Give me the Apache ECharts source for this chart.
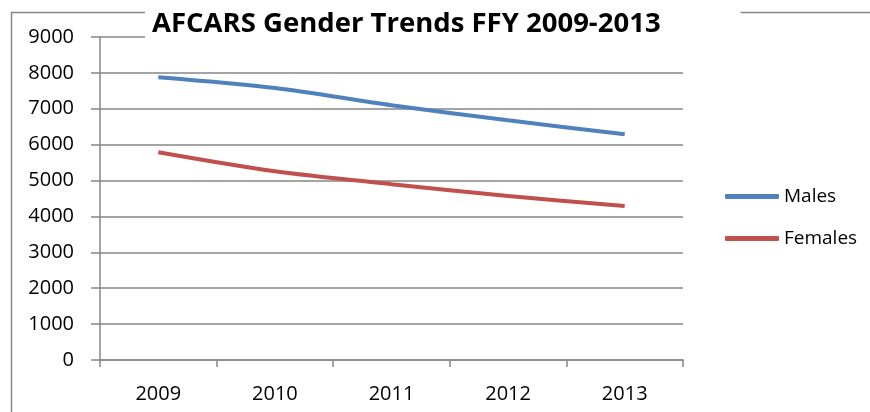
<!DOCTYPE html>
<html>
<head>
<meta charset="utf-8">
<script src="https://cdn.jsdelivr.net/npm/echarts@6/dist/echarts.min.js"></script>
<style>
html,body{margin:0;padding:0;background:#fff;}
#chart{width:870px;height:412px;}
</style>
</head>
<body>
<div id="chart"></div>
<script>
var years = ['2009', '2010', '2011', '2012', '2013'];
var males = [7880, 7580, 7100, 6680, 6290];
var females = [5790, 5260, 4900, 4570, 4290];
var yTicks = [0, 9000, 1000]; // min, max, step

var myChart = echarts.init(document.getElementById('chart'));
var option = {
	animation: false,
	// outer frame of the chart area
	graphic: [{
		type: 'rect',
		z: -10,
		shape: {x: 11.5, y: 12.5, width: 900, height: 500},
		style: {fill: 'none', stroke: '#868686', lineWidth: 1.5}
	}],
	title: {
		text: 'AFCARS Gender Trends FFY 2009-2013',
		left: 145,
		top: 2,
		padding: [8, 80, 6, 7],
		backgroundColor: '#fff',
		textStyle: {
			fontFamily: 'Open Sans',
			fontWeight: 'bold',
			fontSize: 27.5,
			color: '#000'
		}
	},
	legend: {
		orient: 'vertical',
		left: 720,
		top: 182,
		itemWidth: 54,
		itemHeight: 5,
		itemGap: 23,
		icon: 'roundRect',
		textStyle: {fontFamily: 'Open Sans', fontSize: 19, color: '#000'},
		data: ['Males', 'Females']
	},
	grid: {left: 100, right: 187, top: 37, bottom: 52},
	xAxis: {
		type: 'category',
		data: years,
		boundaryGap: true,
		axisLine: {lineStyle: {color: '#868686', width: 1.5}},
		axisTick: {show: true, length: 7, lineStyle: {color: '#868686', width: 1.5}},
		axisLabel: {fontFamily: 'Open Sans', fontSize: 20, color: '#000', margin: 24}
	},
	yAxis: {
		type: 'value',
		min: yTicks[0],
		max: yTicks[1],
		interval: yTicks[2],
		axisLine: {show: true, lineStyle: {color: '#868686', width: 1.5}},
		axisTick: {show: true, length: 9, lineStyle: {color: '#868686', width: 1.5}},
		splitLine: {lineStyle: {color: '#868686', width: 1.5}},
		axisLabel: {
			fontFamily: 'Open Sans', fontSize: 20, color: '#000', margin: 26,
			padding: [5, 0, 0, 0],
			formatter: function (v) { return String(v); }
		}
	},
	series: [{
		name: 'Males',
		type: 'line',
		data: males,
		smooth: 0.3,
		symbol: 'none',
		color: '#4F81BD',
		lineStyle: {width: 4, color: '#4F81BD'}
	}, {
		name: 'Females',
		type: 'line',
		data: females,
		smooth: 0.3,
		symbol: 'none',
		color: '#C0504D',
		lineStyle: {width: 4, color: '#C0504D'}
	}]
};
myChart.setOption(option);
</script>
</body>
</html>
